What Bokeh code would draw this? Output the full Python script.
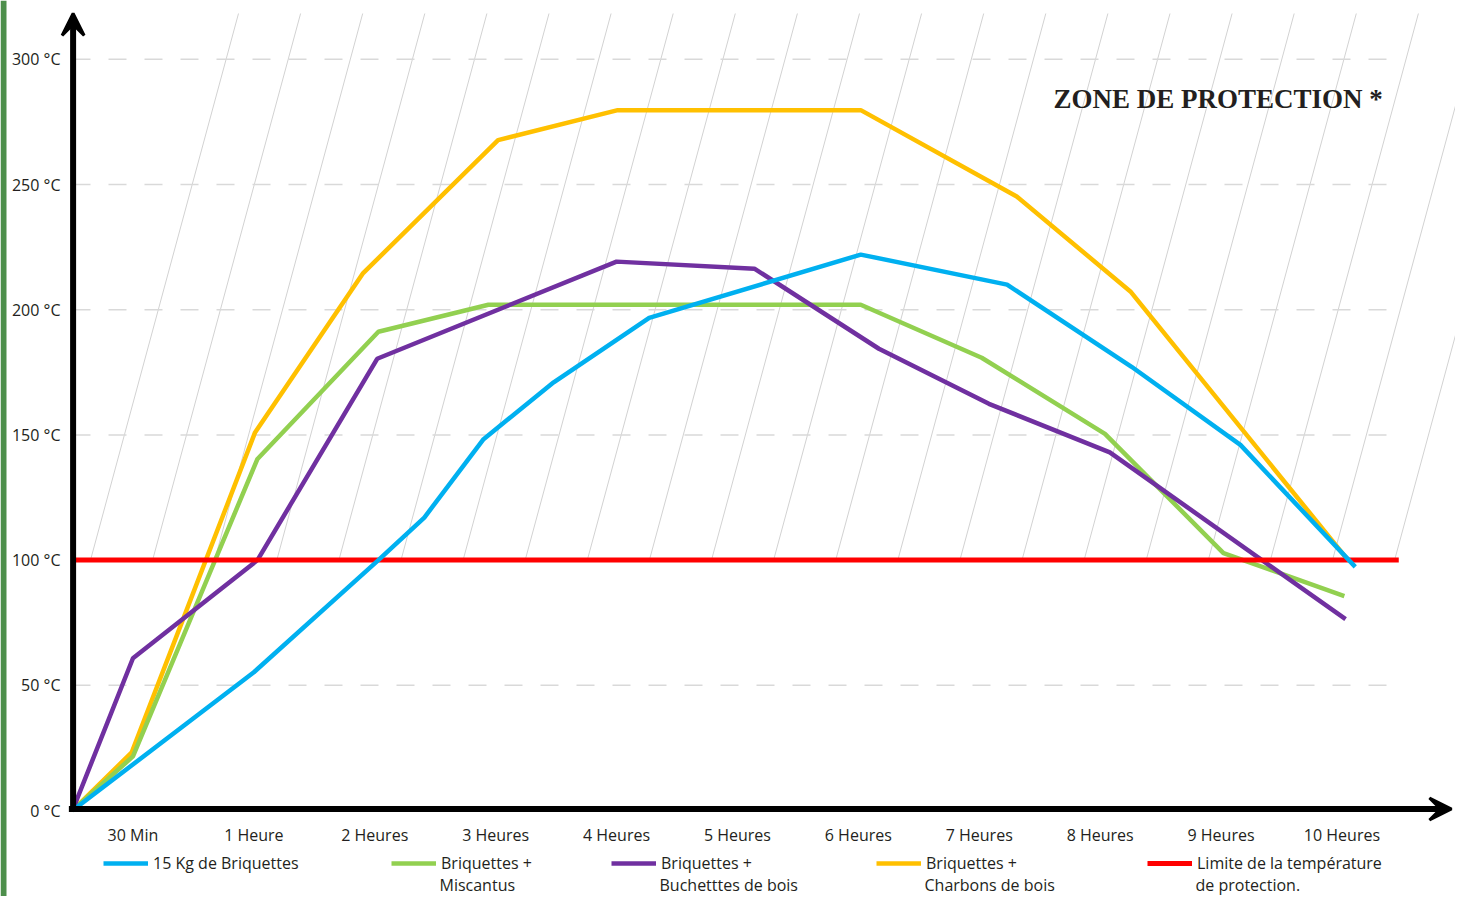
from bokeh.plotting import figure
from bokeh.models import Range1d, Arrow, VeeHead, Label, Legend, LegendItem, FixedTicker, BoxAnnotation
from bokeh.embed import file_html
from bokeh.resources import INLINE

# ---------------- data ----------------
time_ticks = [0.5, 1.5, 2.5, 3.5, 4.5, 5.5, 6.5, 7.5, 8.5, 9.5, 10.5]
time_labels = ["30 Min", "1 Heure", "2 Heures", "3 Heures", "4 Heures", "5 Heures",
               "6 Heures", "7 Heures", "8 Heures", "9 Heures", "10 Heures"]
temp_ticks = [0, 50, 100, 150, 200, 250, 300]
temp_labels = ["0 °C", "50 °C", "100 °C", "150 °C", "200 °C", "250 °C", "300 °C"]

briq_x = [0, 1.5, 2.53, 2.91, 3.40, 3.98, 4.77, 6.52, 7.73, 8.76, 9.66, 10.61]
briq_t = [0, 55.2, 100, 117, 148.3, 171, 196.7, 222, 210, 177.2, 146, 97.3]

misc_x = [0, 0.5, 1.53, 2.53, 3.44, 6.52, 7.52, 8.54, 9.52, 10.52]
misc_t = [0, 21.6, 140.4, 191.2, 202, 202, 180.8, 150.4, 102.8, 85.6]

buch_x = [0, 0.5, 1.53, 2.52, 4.5, 5.64, 6.67, 7.58, 8.58, 10.53]
buch_t = [0, 60.8, 100, 180.4, 219.2, 216.4, 184.4, 162.4, 143, 76.4]

charb_x = [0, 0.49, 1.51, 2.40, 3.52, 4.51, 6.52, 7.81, 8.75, 10.55]
charb_t = [0, 23.2, 151, 214.4, 267.7, 279.7, 279.7, 245.2, 207.3, 100]

limit_x = [0.02, 10.97]
limit_t = [100, 100]

series_names = ["15 Kg de Briquettes", "Briquettes +\nMiscantus", "Briquettes +\nBuchetttes de bois",
                "Briquettes +\nCharbons de bois", "Limite de la température\nde protection."]

# ---------------- figure ----------------
PX_X = 120.9   # px per time slot
PX_Y = 2.504   # px per degree
W, H = 1455, 896
LEFT = 72      # pixel column of the vertical axis
ZERO_Y = 810   # pixel row of 0 °C

p = figure(width=W, height=H, output_backend="svg", toolbar_location=None,
           x_range=Range1d(-LEFT / PX_X, (W - LEFT) / PX_X),
           y_range=Range1d(-(H - ZERO_Y) / PX_Y, ZERO_Y / PX_Y),
           min_border_left=0, min_border_right=0, min_border_top=0, min_border_bottom=0)
p.outline_line_color = None
p.xgrid.visible = False
p.ygrid.visible = False

FONT = "Open Sans"
TXT = "#231f20"

for ax in (p.xaxis[0], p.yaxis[0]):
    ax.axis_line_color = None
    ax.major_tick_line_color = None
    ax.minor_tick_line_color = None
    ax.major_label_text_font = FONT
    ax.major_label_text_font_size = "16px"
    ax.major_label_text_color = TXT

p.xaxis.fixed_location = 0
p.xaxis.ticker = FixedTicker(ticks=time_ticks)
p.xaxis.major_label_overrides = {t: l for t, l in zip(time_ticks, time_labels)}
p.xaxis.major_label_standoff = 7
p.yaxis.fixed_location = 0
p.yaxis.ticker = FixedTicker(ticks=temp_ticks)
p.yaxis.major_label_overrides = {t: l for t, l in zip(temp_ticks, temp_labels)}
p.yaxis.major_label_standoff = 6

# page side stripe
p.add_layout(BoxAnnotation(left=-LEFT / PX_X, right=(6 - LEFT) / PX_X,
                           fill_color="#4d8f4b", fill_alpha=1, line_color=None))

# hatch lines of the protection zone (above the limit)
top_t = (ZERO_Y - 13) / PX_Y
bots = [(18 + 62.1 * k) / PX_X for k in range(22)]
tops = [b + 148 / PX_X for b in bots]
p.segment(x0=bots, y0=[100] * len(bots), x1=tops, y1=[top_t] * len(bots),
          line_color="#d2d2d2", line_width=1)

# dashed horizontal grid
grid_vals = temp_ticks[1:]
p.segment(x0=[0] * len(grid_vals), y0=grid_vals, x1=[1326 / PX_X] * len(grid_vals), y1=grid_vals,
          line_color="#d9d9d9", line_width=1.5, line_dash="18 18")

# series
LW = 4.5
r_o = p.line(charb_x, charb_t, line_color="#ffc000", line_width=LW)
r_g = p.line(misc_x, misc_t, line_color="#92d050", line_width=LW)
r_p = p.line(buch_x, buch_t, line_color="#7030a0", line_width=LW)
r_r = p.line(limit_x, limit_t, line_color="#ff0000", line_width=5)
r_c = p.line(briq_x, briq_t, line_color="#00b0f0", line_width=LW)

# axes arrows
p.add_layout(Arrow(end=VeeHead(size=22, fill_color="black", line_color="black", line_width=3),
                   x_start=-0.03, y_start=0.6, x_end=(W - 4 - LEFT) / PX_X, y_end=0.6,
                   line_color="black", line_width=6))
p.add_layout(Arrow(end=VeeHead(size=22, fill_color="black", line_color="black", line_width=3),
                   x_start=0.005, y_start=0, x_end=0.005, y_end=top_t,
                   line_color="black", line_width=6))

# legends (one per item, under the chart)
renderers = [r_c, r_g, r_p, r_o, r_r]
xs = [103, 391, 611, 876, 1147]
for r, name, xr in zip(renderers, series_names, xs):
    first, *rest = name.split("\n")
    leg = Legend(items=[LegendItem(label=first, renderers=[r])], location=(xr, 22),
                 orientation="horizontal", border_line_color=None, background_fill_alpha=0,
                 padding=0, margin=0, spacing=0, glyph_width=45, glyph_height=20,
                 label_standoff=5, label_height=20, label_text_font=FONT,
                 label_text_font_size="16px", label_text_color=TXT)
    p.add_layout(leg)
    for line in rest:
        p.add_layout(Label(x=(xr + 48 - LEFT) / PX_X, y=(ZERO_Y - 884) / PX_Y, text=line,
                           text_baseline="middle", text_font=FONT, text_font_size="16px",
                           text_color=TXT))

p.add_layout(Label(x=(1053 - LEFT) / PX_X, y=(ZERO_Y - 113) / PX_Y, text="ZONE DE PROTECTION *",
                   text_baseline="bottom",
                   text_font="Liberation Serif", text_font_style="bold",
                   text_font_size="27px", text_color=TXT))

open("out.html", "w").write(file_html(p, INLINE))
